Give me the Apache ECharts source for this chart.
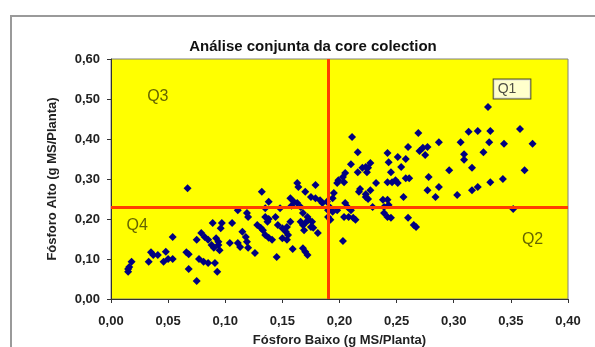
<!DOCTYPE html>
<html>
<head>
<meta charset="utf-8">
<title>Análise conjunta da core colection</title>
<script src="https://cdn.jsdelivr.net/npm/echarts@6/dist/echarts.min.js"></script>
<style>
    html, body { margin: 0; padding: 0; background: #fff; }
    #chart { width: 595px; height: 347px; }
</style>
</head>
<body>
<div id="chart"></div>
<script>
// Fósforo Baixo (eixo x) e Fósforo Alto (eixo y)
var fosforoBaixo = [
    0.015, 0.016, 0.018, 0.033, 0.035, 0.037, 0.041, 0.046, 0.048, 0.050,
    0.054, 0.054, 0.066, 0.068, 0.067, 0.068, 0.075, 0.075, 0.077, 0.079,
    0.081, 0.082, 0.085, 0.085, 0.089, 0.091, 0.093, 0.092, 0.094, 0.095,
    0.096, 0.094, 0.097, 0.088, 0.090, 0.104, 0.106, 0.111, 0.111, 0.113,
    0.115, 0.118, 0.119, 0.120, 0.119, 0.120, 0.126, 0.128, 0.131, 0.133,
    0.132, 0.137, 0.138, 0.135, 0.138, 0.138, 0.135, 0.141, 0.145, 0.146,
    0.148, 0.150, 0.153, 0.154, 0.157, 0.155, 0.150, 0.154, 0.157, 0.160,
    0.163, 0.164, 0.159, 0.168, 0.166, 0.168, 0.169, 0.170, 0.175, 0.179,
    0.183, 0.185, 0.179, 0.195, 0.194, 0.189, 0.205, 0.207, 0.210, 0.190,
    0.194, 0.198, 0.204, 0.208, 0.214, 0.168, 0.172, 0.173, 0.176, 0.170,
    0.175, 0.177, 0.181, 0.163, 0.166, 0.190, 0.192, 0.203, 0.170, 0.172,
    0.211, 0.216, 0.210, 0.205, 0.203, 0.199, 0.198, 0.204, 0.216, 0.220,
    0.223, 0.217, 0.223, 0.225, 0.218, 0.223, 0.212, 0.269, 0.287, 0.260,
    0.270, 0.273, 0.277, 0.275, 0.242, 0.251, 0.258, 0.243, 0.254, 0.227,
    0.225, 0.224, 0.245, 0.232, 0.242, 0.246, 0.249, 0.251, 0.258, 0.261,
    0.278, 0.277, 0.284, 0.227, 0.238, 0.242, 0.243, 0.239, 0.256, 0.229,
    0.239, 0.242, 0.245, 0.260, 0.265, 0.267, 0.330, 0.313, 0.321, 0.332,
    0.306, 0.331, 0.344, 0.326, 0.309, 0.309, 0.296, 0.316, 0.332, 0.343,
    0.287, 0.316, 0.321, 0.303, 0.358, 0.369, 0.362, 0.352, 0.144, 0.135,
    0.158, 0.015, 0.192
];
var fosforoAlto = [
    0.068, 0.080, 0.093, 0.093, 0.117, 0.110, 0.110, 0.093, 0.118, 0.100,
    0.100, 0.155, 0.117, 0.112, 0.277, 0.075, 0.148, 0.045, 0.100, 0.165,
    0.093, 0.155, 0.148, 0.090, 0.190, 0.090, 0.068, 0.152, 0.135, 0.122,
    0.177, 0.143, 0.190, 0.135, 0.128, 0.140, 0.190, 0.222, 0.140, 0.130,
    0.168, 0.155, 0.143, 0.128, 0.215, 0.205, 0.115, 0.185, 0.178, 0.172,
    0.268, 0.193, 0.200, 0.160, 0.153, 0.243, 0.227, 0.148, 0.105, 0.185,
    0.227, 0.177, 0.168, 0.180, 0.193, 0.160, 0.152, 0.148, 0.252, 0.243,
    0.290, 0.280, 0.125, 0.127, 0.193, 0.185, 0.172, 0.268, 0.255, 0.252,
    0.247, 0.240, 0.285, 0.265, 0.252, 0.243, 0.240, 0.230, 0.222, 0.222,
    0.218, 0.222, 0.205, 0.205, 0.198, 0.215, 0.205, 0.198, 0.193, 0.190,
    0.180, 0.178, 0.165, 0.240, 0.230, 0.205, 0.198, 0.145, 0.118, 0.110,
    0.405, 0.367, 0.337, 0.315, 0.305, 0.297, 0.290, 0.292, 0.317, 0.328,
    0.330, 0.268, 0.255, 0.250, 0.275, 0.262, 0.203, 0.415, 0.392, 0.380,
    0.370, 0.378, 0.380, 0.360, 0.365, 0.355, 0.350, 0.342, 0.330, 0.340,
    0.328, 0.317, 0.317, 0.290, 0.292, 0.292, 0.297, 0.290, 0.302, 0.302,
    0.305, 0.272, 0.255, 0.272, 0.248, 0.248, 0.235, 0.230, 0.255, 0.230,
    0.215, 0.205, 0.203, 0.203, 0.185, 0.180, 0.480, 0.418, 0.420, 0.420,
    0.392, 0.392, 0.388, 0.367, 0.362, 0.348, 0.322, 0.328, 0.292, 0.300,
    0.280, 0.272, 0.280, 0.260, 0.425, 0.388, 0.322, 0.225, 0.205, 0.205,
    0.233, 0.075, 0.228
];

// linhas de referência (médias)
var mediaBaixo = 0.19;
var mediaAlto = 0.233;

// rótulos dos quadrantes
var quadNomes = ['Q1', 'Q2', 'Q3', 'Q4'];
var quadX = [0.351, 0.369, 0.041, 0.023];
var quadY = [0.525, 0.148, 0.505, 0.183];

var pontos = fosforoBaixo.map(function (x, i) {
    return [x, fosforoAlto[i]];
});

var quadDados = quadNomes.map(function (n, i) {
    return { name: n, value: [quadX[i], quadY[i]] };
});

function virgula(v) {
    return v.toFixed(2).replace('.', ',');
}

var chart = echarts.init(document.getElementById('chart'), null, { renderer: 'canvas' });

var option = {
    animation: false,
    backgroundColor: '#ffffff',
    textStyle: {
        fontFamily: 'Liberation Sans, Arial, sans-serif'
    },
    title: {
        text: 'Análise conjunta da core colection',
        left: 308,
        top: 34,
        textAlign: 'center',
        textStyle: {
            fontSize: 15,
            fontWeight: 'bold',
            color: '#111'
        }
    },
    // moldura externa do gráfico
    graphic: [
        {
            type: 'rect',
            shape: { x: 11, y: 16, width: 700, height: 500 },
            style: { fill: 'none', stroke: '#9a9a9a', lineWidth: 2 },
            silent: true
        }
    ],
    grid: {
        left: 111,
        right: 27,
        top: 59,
        bottom: 48,
        containLabel: false,
        outerBoundsMode: 'none',
        show: true,
        backgroundColor: '#ffff00',
        borderColor: '#808080',
        borderWidth: 1
    },
    xAxis: {
        type: 'value',
        min: 0,
        max: 0.4,
        interval: 0.05,
        name: 'Fósforo Baixo (g MS/Planta)',
        nameLocation: 'middle',
        nameGap: 35,
        nameTextStyle: { fontSize: 13, fontWeight: 'bold', color: '#222' },
        splitLine: { show: false },
        axisLine: { onZero: false, lineStyle: { color: '#333', width: 1 } },
        axisTick: { length: 4, lineStyle: { color: '#333' } },
        axisLabel: {
            margin: 16,
            fontSize: 13,
            fontWeight: 'bold',
            color: '#222',
            formatter: virgula
        }
    },
    yAxis: {
        type: 'value',
        min: 0,
        max: 0.6,
        interval: 0.1,
        name: 'Fósforo Alto (g MS/Planta)',
        nameLocation: 'middle',
        nameGap: 52,
        nameTextStyle: { fontSize: 13, fontWeight: 'bold', color: '#222' },
        splitLine: { show: false },
        axisLine: { onZero: false, lineStyle: { color: '#333', width: 1 } },
        axisTick: { length: 4, lineStyle: { color: '#333' } },
        axisLabel: {
            margin: 11,
            fontSize: 13,
            fontWeight: 'bold',
            color: '#222',
            formatter: virgula
        }
    },
    series: [
        {
            name: 'core collection',
            type: 'scatter',
            symbol: 'diamond',
            symbolSize: 8,
            itemStyle: { color: '#000080', opacity: 1 },
            data: pontos,
            markLine: {
                silent: true,
                symbol: 'none',
                label: { show: false },
                lineStyle: { color: '#ff3d00', width: 3, type: 'solid', opacity: 1 },
                data: [
                    { xAxis: mediaBaixo },
                    { yAxis: mediaAlto }
                ]
            },
            z: 3
        },
        {
            name: 'quadrantes',
            type: 'scatter',
            symbolSize: 0,
            silent: true,
            data: quadDados,
            label: {
                show: true,
                position: 'inside',
                formatter: '{b}',
                fontSize: 16,
                color: '#3d3d00'
            },
            emphasis: { disabled: true },
            z: 4
        }
    ]
};

// caixa branca do Q1
option.series[1].data[0].label = {
    backgroundColor: '#ffffff',
    borderColor: '#222',
    borderWidth: 1,
    padding: [3, 14, 2, 4],
    fontSize: 14,
    color: '#222'
};

chart.setOption(option);
</script>
</body>
</html>
